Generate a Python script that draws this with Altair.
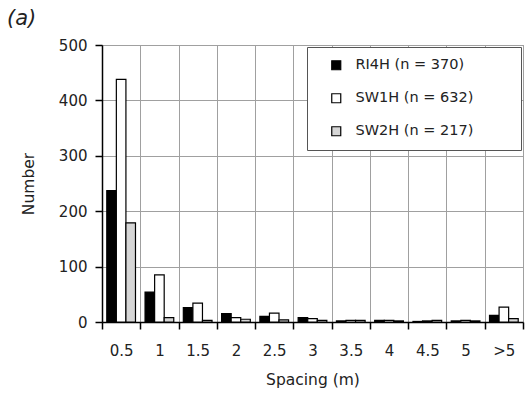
import altair as alt
import pandas as pd

categories = ["0.5", "1", "1.5", "2", "2.5", "3", "3.5", "4", "4.5", "5", ">5"]
series = ["RI4H (n = 370)", "SW1H (n = 632)", "SW2H (n = 217)"]
ri4h = [237, 54, 26, 15, 10, 8, 2, 3, 1, 2, 12]
sw1h = [438, 85, 34, 8, 16, 6, 3, 3, 2, 3, 27]
sw2h = [179, 8, 3, 5, 4, 3, 3, 2, 3, 2, 6]
fills = ["#000000", "#ffffff", "#d6d6d6"]

rows = []
for name, vals in zip(series, [ri4h, sw1h, sw2h]):
    for c, v in zip(categories, vals):
        rows.append({"Spacing": c, "Series": name, "Number": v})
df = pd.DataFrame(rows)

FONT = "DejaVu Sans"
TXT = "#222222"
PAD = "\u00a0" + "\u2800" * 3

chart = (
    alt.Chart(df)
    .mark_bar(stroke="black", strokeWidth=1.2)
    .encode(
        x=alt.X(
            "Spacing:N",
            sort=categories,
            scale=alt.Scale(paddingInner=0, paddingOuter=0),
            axis=alt.Axis(
                title="Spacing (m)",
                labelAngle=0,
                tickBand="extent",
                grid=True,
                tickSize=7,
                labelPadding=14,
                titlePadding=14,
            ),
        ),
        xOffset=alt.XOffset(
            "Series:N",
            sort=series,
            scale=alt.Scale(paddingInner=0, paddingOuter=0.5),
        ),
        y=alt.Y(
            "Number:Q",
            scale=alt.Scale(domain=[0, 500]),
            axis=alt.Axis(
                title="Number",
                values=[0, 100, 200, 300, 400, 500],
                tickSize=7,
                labelPadding=8,
                titlePadding=22,
            ),
        ),
        fill=alt.Fill(
            "Series:N",
            sort=series,
            scale=alt.Scale(domain=series, range=fills),
            legend=alt.Legend(
                title=None,
                orient="none",
                legendX=205,
                legendY=2,
                padding=11,
                symbolOffset=11,
                labelOffset=12,
                rowPadding=17,
                symbolType="square",
                symbolSize=81,
                symbolStrokeColor="black",
                symbolStrokeWidth=1.2,
                fillColor="white",
                strokeColor="#555555",
                labelFont=FONT,
                labelFontSize=14.5,
                labelColor=TXT,
                labelLimit=400,
                labelExpr="datum.label + '" + PAD + "'",
            ),
        ),
    )
    .properties(
        width=421,
        height=277,
        padding={"left": 102, "top": 45, "right": 3, "bottom": 75},
        autosize=alt.AutoSizeParams(type="none"),
        title=alt.TitleParams(
            "(a)",
            anchor="start",
            frame="group",
            dx=-95,
            dy=3,
            fontStyle="italic",
            fontWeight="normal",
            fontSize=21,
            font=FONT,
            color=TXT,
            offset=12,
        ),
    )
    .configure_view(stroke="#888888", strokeWidth=1)
    .configure_axis(
        labelFont=FONT,
        labelFontSize=15,
        labelColor=TXT,
        titleFont=FONT,
        titleFontSize=15.5,
        titleFontWeight="normal",
        titleColor=TXT,
        domainColor="black",
        domainWidth=1.5,
        tickColor="black",
        tickWidth=1.5,
        gridColor="#a0a0a0",
        gridWidth=1,
        gridOpacity=1,
    )
)

chart.save("out.html", embed_options={"renderer": "svg", "actions": False})
